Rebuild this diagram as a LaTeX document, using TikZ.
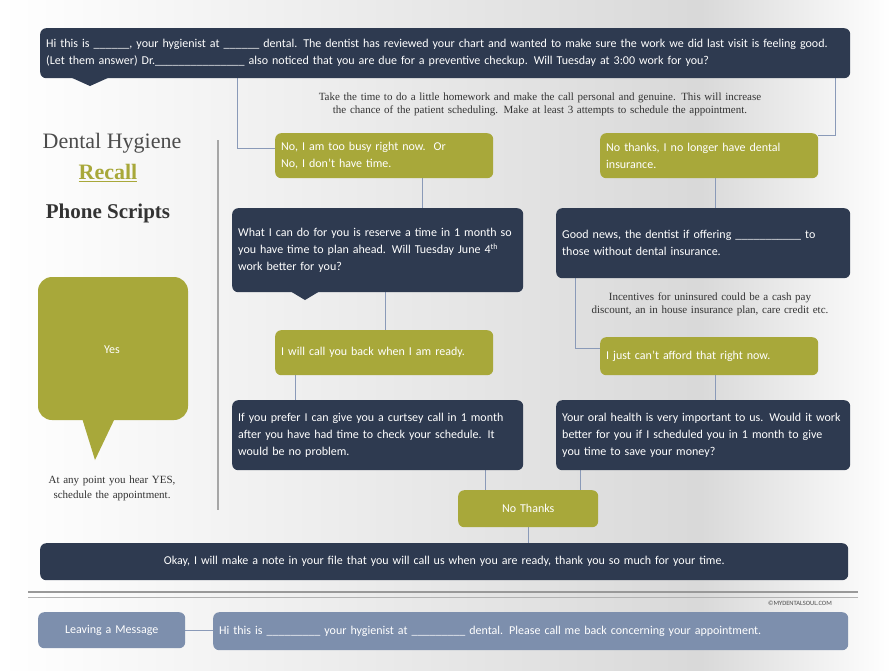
\documentclass[tikz,border=0pt]{standalone}
\usepackage{fontspec}
\setmainfont{Carlito}
\newfontfamily\serifx{Liberation Serif}
\usetikzlibrary{positioning}
\definecolor{navy}{HTML}{2E3A50}
\definecolor{olive}{HTML}{A8A83A}
\definecolor{slate}{HTML}{7D8FAD}
\definecolor{conn}{HTML}{8A9AB8}
\tikzset{
 box/.style={rounded corners=6pt,text=white,font=\fontsize{12}{17}\selectfont,align=left,inner sep=6pt,anchor=north west},
 dk/.style={box,fill=navy},
 yl/.style={box,fill=olive},
 sl/.style={box,fill=slate},
 cn/.style={draw=conn,line width=0.8pt},
 note/.style={font=\serifx\fontsize{11}{13}\selectfont,align=center,text=black!80}
}
\hyphenpenalty=10000
\exhyphenpenalty=10000
\begin{document}
\begin{tikzpicture}[x=1pt,y=-1pt]
\shade[left color=white,right color=gray!30] (0,0) rectangle (700,670);
\shade[left color=gray!30,right color=white] (700,0) rectangle (891,670);
\useasboundingbox (0,0) rectangle (891,670);
% connectors first
\coordinate (c1) at (237,148);
\coordinate (c2) at (835,135);
\coordinate (c3) at (575,348);
\draw[cn] (237,78) -- (c1) -- (275,148);
\draw[cn] (835,78) -- (c2) -- (818,135);
\draw[cn] (422,178) -- (422,208);
\draw[cn] (715,178) -- (715,208);
\draw[cn] (575,278) -- (c3) -- (600,348);
\draw[cn] (385,292) -- (385,330);
\draw[cn] (295,375) -- (295,400);
\draw[cn] (715,375) -- (715,400);
\draw[cn] (485,470) -- (485,490);
\draw[cn] (580,470) -- (580,490);
\draw[cn] (528,527) -- (528,543);
\draw[cn] (185,630) -- (213,630);
% nodes
\node[dk,minimum width=810,minimum height=50,text width=798] (top) at (40,28) {Hi this is \_\_\_\_\_\_, your hygienist at \_\_\_\_\_\_ dental. The dentist has reviewed your chart and wanted to make sure the work we did last visit is feeling good. (Let them answer) Dr.\_\_\_\_\_\_\_\_\_\_\_\_\_\_\_ also noticed that you are due for a preventive checkup. Will Tuesday at 3:00 work for you?};
\fill[navy] (70,77) -- (90,86) -- (110,77) -- cycle;
\node[note,text width=620] (n1) at (540,104) {Take the time to do a little homework and make the call personal and genuine. This will increase the chance of the patient scheduling. Make at least 3 attempts to schedule the appointment.};
\node[font=\serifx\fontsize{22}{24}\selectfont,text=black!70] (t1) at (112,143) {Dental Hygiene};
\node[font=\serifx\bfseries\fontsize{22}{24}\selectfont,text=olive] (t2) at (108,173) {\underline{Recall}};
\node[font=\serifx\bfseries\fontsize{21}{24}\selectfont,text=black!80] (t3) at (108,213) {Phone Scripts};
\draw[gray!70,line width=1.5pt] (218,140) -- (218,510);
\node[yl,minimum width=218,minimum height=45,text width=206] (y1) at (275,133) {No, I am too busy right now.\ \ Or\\No, I don't have time.};
\node[yl,minimum width=218,minimum height=45,text width=206] (y2) at (600,133) {No thanks, I no longer have dental\\insurance.};
\node[dk,minimum width=291,minimum height=84,text width=279] (d2) at (232,208) {What I can do for you is reserve a time in 1 month so you have time to plan ahead. Will Tuesday June 4\textsuperscript{th} work better for you?};
\fill[navy] (290,291) -- (305,300) -- (320,291) -- cycle;
\node[dk,minimum width=294,minimum height=70,text width=282] (d3) at (556,208) {Good news, the dentist if offering \_\_\_\_\_\_\_\_\_\_\_ to those without dental insurance.};
\node[note,text width=275] (n2) at (710,304) {Incentives for uninsured could be a cash pay discount, an in house insurance plan, care credit etc.};
\node[yl,minimum width=218,minimum height=45,text width=206] (y3) at (275,330) {I will call you back when I am ready.};
\node[yl,minimum width=218,minimum height=38,text width=206] (y4) at (600,337) {I just can't afford that right now.};
\node[dk,minimum width=291,minimum height=70,text width=279] (d4) at (232,400) {If you prefer I can give you a curtsey call in 1 month after you have had time to check your schedule. It would be no problem.};
\node[dk,minimum width=294,minimum height=70,text width=282] (d5) at (556,400) {Your oral health is very important to us. Would it work better for you if I scheduled you in 1 month to give you time to save your money?};
\node[yl,minimum width=140,minimum height=37,align=center,text width=128] (nt) at (458,490) {No Thanks};
\node[dk,minimum width=808,minimum height=37,align=center,text width=796] (bt) at (40,543) {Okay, I will make a note in your file that you will call us when you are ready, thank you so much for your time.};
\fill[olive,rounded corners=14pt] (38,277) rectangle (188,420);
\fill[olive] (82,418) -- (95,460) -- (115,418) -- cycle;
\node[text=white,font=\fontsize{12}{14}\selectfont] (yes) at (112,350) {Yes};
\node[note,font=\serifx\fontsize{11}{15}\selectfont,text width=130] (n3) at (112,488) {At any point you hear YES, schedule the appointment.};
\draw[gray!80,line width=1.5pt] (28,592) -- (858,592);
\draw[gray!60,line width=1pt] (28,597) -- (858,597);
\node[font=\fontsize{6.5}{7}\selectfont,text=black!70] (ft) at (800,603) {\copyright MYDENTALSOUL.COM};
\node[sl,minimum width=147,minimum height=36,align=center,text width=135] (lm) at (38,612) {Leaving a Message};
\node[sl,minimum width=635,minimum height=38,text width=623] (msg) at (213,612) {Hi this is \_\_\_\_\_\_\_\_\_ your hygienist at \_\_\_\_\_\_\_\_\_ dental. Please call me back concerning your appointment.};
\end{tikzpicture}
\end{document}
